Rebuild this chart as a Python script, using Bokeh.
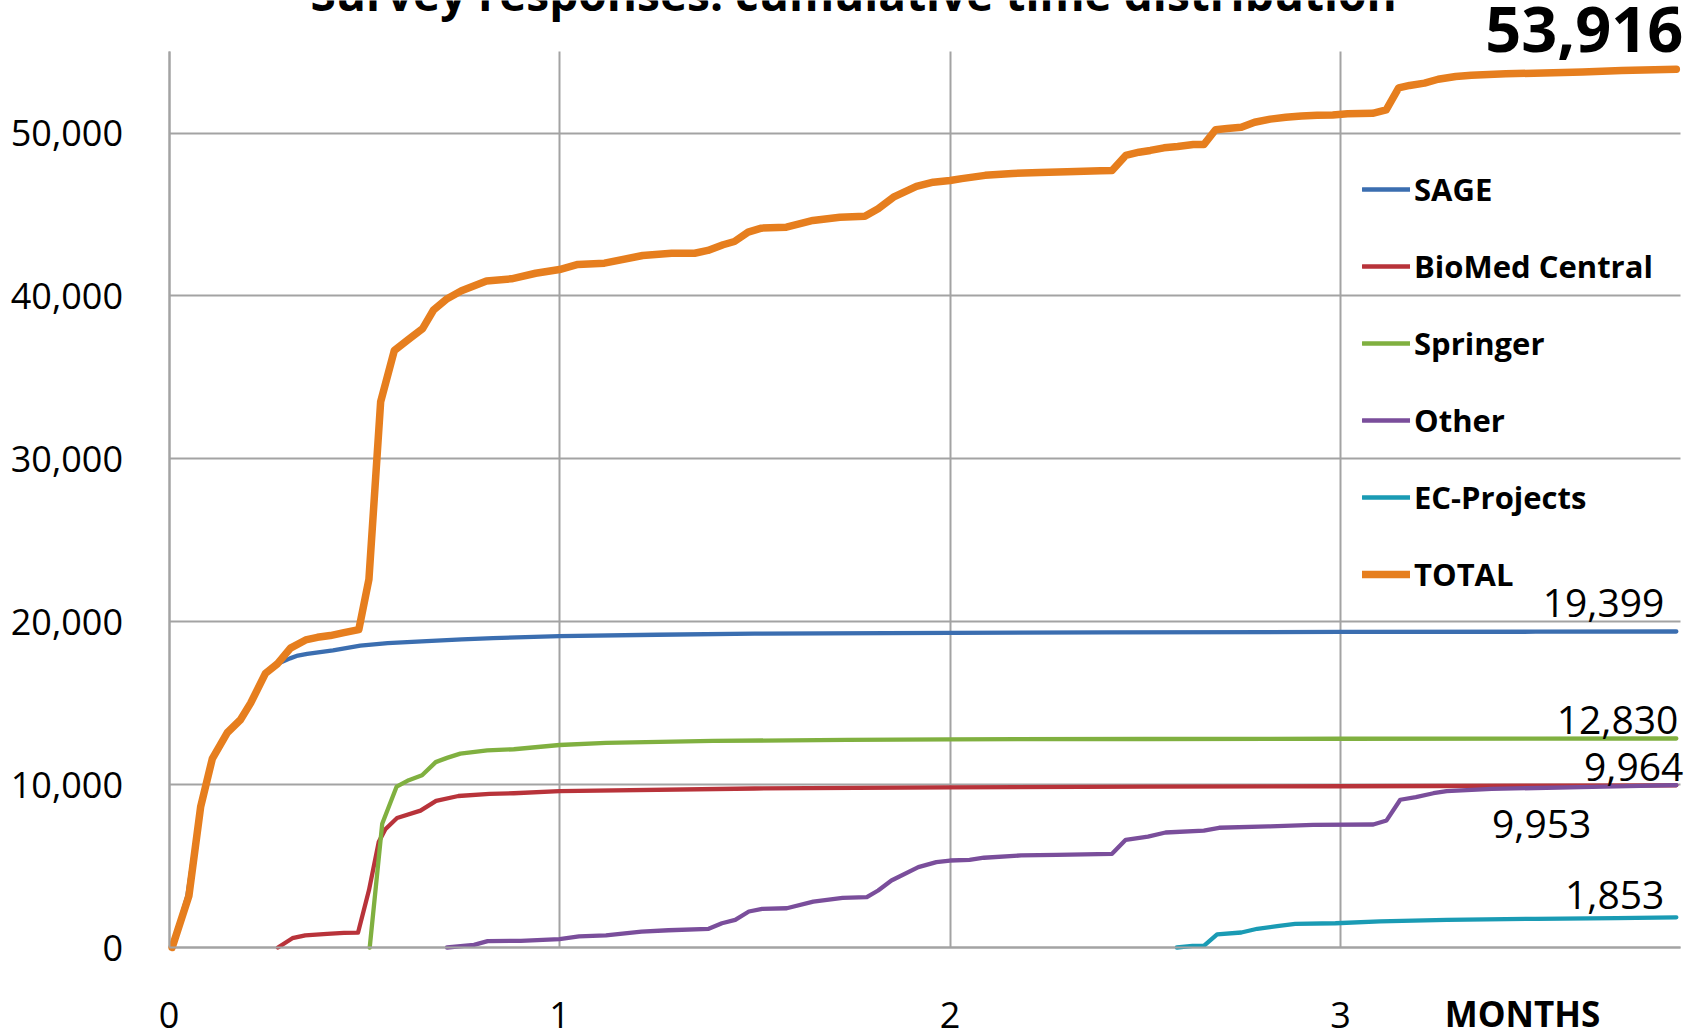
from bokeh.plotting import figure
from bokeh.models import (Range1d, FixedTicker, NumeralTickFormatter, Label,
                          Legend, LegendItem)
from bokeh.embed import file_html
from bokeh.resources import INLINE

# ---- cumulative survey responses, time in months since launch ----
sage_x = [0.008, 0.047, 0.081, 0.111, 0.149, 0.183, 0.209, 0.247, 0.277, 0.31,
          0.33, 0.354, 0.42, 0.49, 0.56, 0.66, 0.75, 0.83, 1.0, 1.25, 1.5, 2.0,
          2.4, 3.0, 3.5, 3.86]
sage_y = [0, 3170, 8630, 11600, 13180, 13980, 15000, 16830, 17400, 17750,
          17920, 18030, 18240, 18530, 18690, 18810, 18920, 18990, 19110, 19200,
          19270, 19320, 19340, 19370, 19385, 19399]

bmc_x = [0.279, 0.316, 0.349, 0.405, 0.448, 0.484, 0.512, 0.537, 0.554, 0.584,
         0.644, 0.684, 0.741, 0.821, 0.883, 1.0, 1.5, 2.0, 2.5, 3.0, 3.5, 3.86]
bmc_y = [0, 570, 750, 840, 900, 910, 3510, 6470, 7260, 7950,
         8400, 9000, 9300, 9430, 9470, 9600, 9760, 9830, 9870, 9900, 9930, 9953]

springer_x = [0.514, 0.546, 0.583, 0.614, 0.648, 0.683, 0.712, 0.746, 0.815,
              0.883, 1.0, 1.119, 1.393, 1.736, 2.0, 2.5, 3.0, 3.5, 3.86]
springer_y = [0, 7600, 9880, 10270, 10570, 11380, 11640, 11900, 12100,
              12170, 12430, 12560, 12680, 12750, 12780, 12800, 12815, 12825, 12830]

other_x = [0.712, 0.781, 0.816, 0.901, 1.0, 1.05, 1.119, 1.21, 1.279, 1.382,
           1.416, 1.45, 1.485, 1.519, 1.582, 1.65, 1.725, 1.787, 1.816, 1.85,
           1.919, 1.965, 2.0, 2.05, 2.087, 2.182, 2.273, 2.415, 2.45, 2.507,
           2.552, 2.65, 2.689, 2.815, 2.93, 3.084, 3.118, 3.153, 3.193, 3.238,
           3.272, 3.387, 3.615, 3.86]
other_y = [0, 165, 390, 410, 520, 680, 740, 980, 1060, 1145,
           1490, 1700, 2210, 2370, 2410, 2820, 3050, 3090, 3500, 4110,
           4930, 5240, 5340, 5380, 5510, 5650, 5690, 5750, 6610, 6810,
           7060, 7180, 7350, 7430, 7530, 7550, 7800, 9070, 9230, 9470,
           9600, 9740, 9840, 9964]

ec_x = [2.581, 2.621, 2.65, 2.684, 2.746, 2.787, 2.838, 2.884, 2.987, 3.101,
        3.272, 3.5, 3.707, 3.86]
ec_y = [0, 100, 100, 800, 920, 1150, 1310, 1450, 1490, 1610,
        1700, 1760, 1800, 1853]

total_x = [0.008, 0.051, 0.081, 0.111, 0.149, 0.183, 0.209, 0.247, 0.277, 0.311,
           0.35, 0.38, 0.413, 0.448, 0.486, 0.512, 0.542, 0.577, 0.613, 0.649,
           0.677, 0.71, 0.749, 0.813, 0.877, 0.939, 1.0, 1.047, 1.115, 1.213,
           1.287, 1.346, 1.38, 1.419, 1.448, 1.483, 1.517, 1.581, 1.649, 1.718,
           1.782, 1.816, 1.855, 1.914, 1.957, 2.0, 2.03, 2.09, 2.16, 2.23,
           2.30, 2.385, 2.415, 2.45, 2.484, 2.513, 2.548, 2.583, 2.623, 2.65,
           2.68, 2.71, 2.746, 2.78, 2.82, 2.86, 2.90, 2.94, 2.98, 3.018,
           3.082, 3.117, 3.149, 3.177, 3.215, 3.25, 3.295, 3.335, 3.423, 3.52,
           3.62, 3.72, 3.86]
total_y = [0, 3170, 8630, 11600, 13180, 13980, 15000, 16830, 17400, 18380,
           18880, 19040, 19150, 19330, 19510, 22600, 33500, 36650, 37320, 37980,
           39120, 39790, 40320, 40920, 41050, 41390, 41620, 41930, 42010, 42480,
           42620, 42620, 42790, 43140, 43340, 43910, 44160, 44220, 44630, 44830,
           44890, 45350, 46060, 46720, 46980, 47080, 47200, 47400, 47520, 47580,
           47620, 47680, 47700, 48620, 48820, 48930, 49090, 49170, 49290, 49290,
           50200, 50270, 50350, 50660, 50850, 50970, 51050, 51090, 51110, 51180,
           51210, 51420, 52770, 52920, 53060, 53300, 53470, 53550, 53630, 53690,
           53750, 53840, 53916]

series_names = ["SAGE", "BioMed Central", "Springer", "Other", "EC-Projects", "TOTAL"]
x_ticks = [0, 1, 2, 3]
y_ticks = [0, 10000, 20000, 30000, 40000, 50000]
x_max = 3.87
y_max = 55000

FONT = "Open Sans"
GRID = "#a3a3a3"

W, H = 1705, 1034
# the plot frame fills the whole canvas; the axes sit at fixed data positions
PX_PER_MONTH = 390.5
PX_PER_UNIT = 162.9 / 10000
LEFT_PX, BOTTOM_PX = 168.5, 947.0
x_range = Range1d(-LEFT_PX / PX_PER_MONTH, (W - LEFT_PX) / PX_PER_MONTH)
y_range = Range1d(-(H - BOTTOM_PX) / PX_PER_UNIT, BOTTOM_PX / PX_PER_UNIT)

p = figure(width=W, height=H, output_backend="svg", toolbar_location=None,
           x_range=x_range, y_range=y_range,
           min_border_left=0, min_border_right=0, min_border_top=0,
           min_border_bottom=0)
p.outline_line_color = None
p.background_fill_color = "white"
p.border_fill_color = "white"

# axes
p.xaxis.ticker = FixedTicker(ticks=x_ticks)
p.yaxis.ticker = FixedTicker(ticks=y_ticks)
p.yaxis.formatter = NumeralTickFormatter(format="0,0")
p.xaxis.fixed_location = 0
p.yaxis.fixed_location = 0
p.xaxis.bounds = (0, x_max)
p.yaxis.bounds = (0, y_max)
for ax in (p.xaxis, p.yaxis):
    ax.axis_line_color = GRID
    ax.axis_line_width = 2
    ax.major_tick_line_color = None
    ax.minor_tick_line_color = None
    ax.major_label_text_font = FONT
    ax.major_label_text_font_size = "36px"
    ax.major_label_text_color = "black"
p.yaxis.major_label_standoff = 40
p.xaxis.major_label_standoff = 48

p.xgrid.grid_line_color = GRID
p.xgrid.grid_line_width = 2
p.xgrid.cross_bounds = (0, y_max)
p.ygrid.grid_line_color = GRID
p.ygrid.grid_line_width = 2
p.ygrid.cross_bounds = (0, x_max)

colors = ["#3B6EB0", "#B8333A", "#80B040", "#7A4E9B", "#1A9BB4", "#E67E1E"]
xs = [sage_x, bmc_x, springer_x, other_x, ec_x, total_x]
ys = [sage_y, bmc_y, springer_y, other_y, ec_y, total_y]
widths = [4.3, 4.3, 4.3, 4.3, 4.3, 7.5]

items = []
for name, x, y, c, w in zip(series_names, xs, ys, colors, widths):
    r = p.line(x, y, line_color=c, line_width=w, line_cap="round", line_join="round")
    items.append(LegendItem(label=name, renderers=[r]))

legend = Legend(items=items, location=(1362, 439), orientation="vertical",
                label_text_font=FONT, label_text_font_style="bold",
                label_text_font_size="31px", label_text_color="black",
                glyph_width=48, glyph_height=20, label_standoff=4,
                spacing=35, padding=0, margin=0,
                border_line_color=None, background_fill_alpha=0)
p.add_layout(legend, "center")

# end-of-line value labels
def end_label(x, y, dx, dy, size, bold=False):
    p.add_layout(Label(x=x, y=y, x_offset=dx, y_offset=dy, text=f"{y:,}",
                       text_align="right", text_baseline="alphabetic",
                       text_font=FONT, text_font_size=size,
                       text_font_style="bold" if bold else "normal",
                       text_color="black"))

end_label(sage_x[-1], sage_y[-1], -12, 28, "39px")
end_label(springer_x[-1], springer_y[-1], 2, 18, "39px")
end_label(other_x[-1], other_y[-1], 7, 18, "39px")
end_label(bmc_x[-1], bmc_y[-1], -85, -39, "39px")
end_label(ec_x[-1], ec_y[-1], -12, 22, "39px")
end_label(total_x[-1], total_y[-1], 7, 40, "63px", bold=True)

# axis caption and title
p.add_layout(Label(x=3.466, y=0, y_offset=-66, text="MONTHS", text_align="center",
                   text_baseline="alphabetic", text_font=FONT,
                   text_font_style="bold", text_font_size="35px", text_color="black"))
p.add_layout(Label(x=1.753, y=0, y_offset=955,
                   text="Survey responses: cumulative time distribution",
                   text_align="center", text_baseline="alphabetic", text_font=FONT,
                   text_font_style="bold", text_font_size="46px", text_color="black"))

open("out.html", "w").write(file_html(p, INLINE))
